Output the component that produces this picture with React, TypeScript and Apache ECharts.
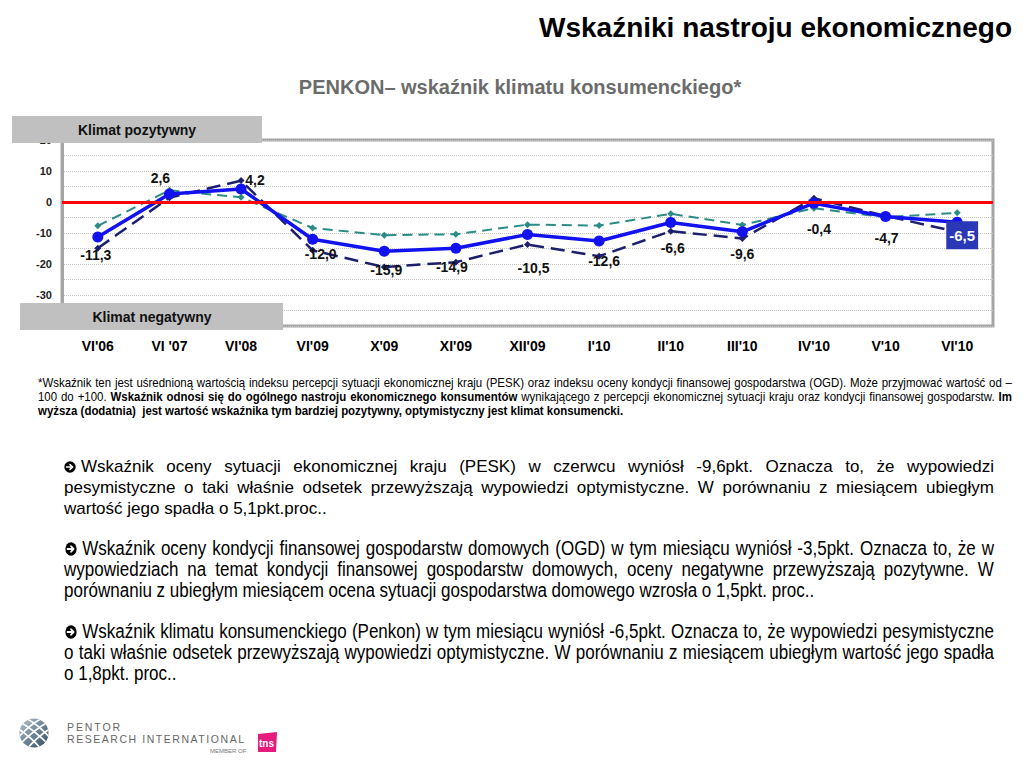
import React, { useEffect, useRef } from "react";
import * as echarts from "echarts";

// ---------- data ----------
const categories = ["VI'06", "VI '07", "VI'08", "VI'09", "X'09", "XI'09", "XII'09", "I'10", "II'10", "III'10", "IV'10", "V'10", "VI'10"];
const penkon = [-11.3, 2.6, 4.2, -12.0, -15.9, -14.9, -10.5, -12.6, -6.6, -9.6, -0.4, -4.7, -6.5];
const pesk = [-14.9, 1.4, 6.9, -15.6, -21.0, -19.4, -13.7, -17.5, -9.4, -11.8, 1.2, -4.5, -9.6];
const ogd = [-7.7, 3.8, 1.5, -8.4, -10.7, -10.4, -7.3, -7.6, -3.8, -7.4, -2.0, -4.9, -3.5];
const yMin = -40;
const yMax = 20;
const yStep = 5;

// label placement for Penkon values (dx, dy from the point)
const penkonLabelOffsets: [number, number][] = [
  [-2, 18], [-9, -16], [14, -9], [8, 15], [2, 19], [-4, 19], [6, 33],
  [5, 20], [2, 26], [0, 22], [5, 26], [1, 21], [5, 13],
];

type Seg = { t: string; b?: boolean };

const footnoteLines: Seg[][] = [
  [{ t: "*Wskaźnik ten jest uśrednioną wartością indeksu percepcji sytuacji ekonomicznej kraju (PESK) oraz indeksu oceny kondycji finansowej gospodarstwa (OGD). Może przyjmować wartość od –" }],
  [
    { t: "100 do +100. " },
    { t: "Wskaźnik odnosi się do ogólnego nastroju ekonomicznego konsumentów", b: true },
    { t: " wynikającego z percepcji ekonomicznej sytuacji kraju oraz kondycji finansowej gospodarstw. " },
    { t: "Im", b: true },
  ],
  [{ t: "wyższa (dodatnia)  jest wartość wskaźnika tym bardziej pozytywny, optymistyczny jest klimat konsumencki.", b: true }],
];

const para1 = [
  "Wskaźnik oceny sytuacji ekonomicznej kraju (PESK) w czerwcu wyniósł -9,6pkt. Oznacza to, że wypowiedzi",
  "pesymistyczne o taki właśnie odsetek przewyższają wypowiedzi optymistyczne. W porównaniu z miesiącem ubiegłym",
  "wartość jego spadła o 5,1pkt.proc..",
];
const para2 = [
  "Wskaźnik oceny kondycji finansowej gospodarstw domowych (OGD) w tym miesiącu wyniósł -3,5pkt. Oznacza to, że w",
  "wypowiedziach na temat kondycji finansowej gospodarstw domowych, oceny negatywne przewyższają pozytywne. W",
  "porównaniu z ubiegłym miesiącem ocena sytuacji gospodarstwa domowego wzrosła o 1,5pkt. proc..",
];
const para3 = [
  "Wskaźnik klimatu konsumenckiego (Penkon) w tym miesiącu wyniósł -6,5pkt. Oznacza to, że wypowiedzi pesymistyczne",
  "o taki właśnie odsetek przewyższają wypowiedzi optymistyczne. W porównaniu z miesiącem ubiegłym wartość jego spadła",
  "o 1,8pkt. proc..",
];

const FONT = "'Liberation Sans', Arial, Helvetica, sans-serif";

function Bullet(props: { size: number; sx: number }) {
  const s = props.size;
  return (
    <svg width={s / props.sx} height={s} viewBox="0 0 20 20" style={{ display: "inline-block", verticalAlign: "-1px", marginRight: 5 }}>
      <circle cx={10} cy={10} r={9.5} fill="#000" />
      <path d="M4 10 H13 M10 6 L14.5 10 L10 14" stroke="#fff" strokeWidth={2.6} fill="none" strokeLinecap="round" strokeLinejoin="round" />
    </svg>
  );
}

function TextLine(props: {
  segs: Seg[]; x: number; cy: number; w: number; size: number; lh: number; sx: number; justify: boolean; bullet?: boolean;
}) {
  const { segs, x, cy, w, size, lh, sx, justify, bullet } = props;
  const words: Seg[] = [];
  segs.forEach((s) => s.t.split(/ +/).filter((q) => q.length > 0).forEach((t) => words.push({ t, b: s.b })));
  const style: React.CSSProperties = {
    position: "absolute",
    left: x,
    top: cy - lh / 2,
    width: w / sx,
    height: lh,
    transform: `scaleX(${sx})`,
    transformOrigin: "0 0",
    fontFamily: FONT,
    fontSize: size,
    lineHeight: lh + "px",
    color: "#000",
    whiteSpace: "pre",
  };
  const bl = bullet ? <Bullet size={Math.round(size * 0.72)} sx={sx} /> : null;
  if (justify) {
    style.display = "flex";
    style.justifyContent = "space-between";
    return (
      <div style={style}>
        {words.map((wd, i) => (
          <span key={i} style={{ fontWeight: wd.b ? "bold" : "normal" }}>{i === 0 ? bl : null}{wd.t}</span>
        ))}
      </div>
    );
  }
  return (
    <div style={style}>
      {bl}
      {segs.map((s, i) => (
        <span key={i} style={{ fontWeight: s.b ? "bold" : "normal" }}>{s.t}</span>
      ))}
    </div>
  );
}

function Paragraph(props: { lines: string[]; top: number; size: number; sx: number }) {
  const { lines, top, size, sx } = props;
  return (
    <>
      {lines.map((l, i) => (
        <TextLine key={i} segs={[{ t: l }]} x={64} cy={top + i * 21} w={930} size={size} lh={21} sx={sx} justify={i < lines.length - 1} bullet={i === 0} />
      ))}
    </>
  );
}

function Logo() {
  return (
    <svg width={300} height={68} style={{ position: "absolute", left: 0, top: 700 }} viewBox="0 700 300 68">
      <defs>
        <linearGradient id="glb" x1="0" y1="0" x2="1" y2="1">
          <stop offset="0" stopColor="#b9c6d0" />
          <stop offset="0.5" stopColor="#6f8799" />
          <stop offset="1" stopColor="#2f4a60" />
        </linearGradient>
        <clipPath id="gclip">
          <circle cx={34} cy={733} r={14.5} />
        </clipPath>
      </defs>
      <circle cx={34} cy={733} r={14.5} fill="url(#glb)" />
      <g clipPath="url(#gclip)" stroke="#ffffff" strokeWidth={1.6} fill="none">
        <path d="M20 722 Q34 730 48 744" />
        <path d="M20 730 Q32 738 42 750" />
        <path d="M26 718 Q40 726 50 738" />
        <path d="M48 722 Q34 730 20 744" />
        <path d="M48 730 Q36 738 26 750" />
        <path d="M42 718 Q28 726 18 738" />
      </g>
      <text x={67} y={731} fontFamily={FONT} fontSize={10.5} letterSpacing={1.9} fill="#666">PENTOR</text>
      <text x={67} y={743} fontFamily={FONT} fontSize={10.5} letterSpacing={1.55} fill="#666">RESEARCH INTERNATIONAL</text>
      <text x={210} y={753} fontFamily={FONT} fontSize={6} fill="#777">MEMBER OF</text>
      <path d="M258 734 L277 732 L276 752 L258 752 Z" fill="#e6197d" />
      <text x={259} y={747} fontFamily={FONT} fontSize={10} fontWeight="bold" fill="#ffffff">tns</text>
    </svg>
  );
}

export default function App() {
  const ref = useRef<HTMLDivElement>(null);

  useEffect(() => {
    if (!ref.current) return;
    const chart = echarts.init(ref.current, undefined, { renderer: "svg" });
    const fmt = (v: number) => v.toFixed(1).replace(".", ",");
    const last = penkon.length - 1;
    const penkonData = penkon.map((v, i) => ({
      value: v,
      label:
        i === last
          ? { offset: penkonLabelOffsets[i], backgroundColor: "#2a38b8", color: "#ffffff", padding: [7, 3, 6, 3], fontSize: 15 }
          : { offset: penkonLabelOffsets[i] },
    }));

    chart.setOption({
      animation: false,
      backgroundColor: "#ffffff",
      textStyle: { fontFamily: FONT },
      grid: {
        left: 62, right: 31, top: 140, bottom: 442,
        show: true, borderColor: "#a5a5a5", borderWidth: 3, backgroundColor: "#ffffff",
      },
      xAxis: {
        type: "category",
        data: categories,
        axisTick: { show: false },
        axisLine: { show: false },
        axisLabel: { fontWeight: "bold", fontSize: 14, color: "#000", margin: 13, fontFamily: FONT },
      },
      yAxis: {
        type: "value",
        min: yMin,
        max: yMax,
        interval: yStep,
        axisLine: { show: true, lineStyle: { color: "#a5a5a5", width: 3 } },
        axisTick: { show: false },
        splitLine: { lineStyle: { color: "#c4c4c4", type: "dotted", width: 1 } },
        axisLabel: {
          formatter: (v: number) => (v % 10 === 0 && v !== yMin ? String(v) : ""),
          fontWeight: "bold", fontSize: 11, color: "#222", margin: 10, fontFamily: FONT,
        },
      },
      series: [
        {
          name: "OGD",
          type: "line",
          data: ogd,
          symbol: "diamond",
          symbolSize: 7,
          itemStyle: { color: "#2a8c84" },
          lineStyle: { color: "#2a8c84", width: 2, type: [10, 6] },
          z: 2,
          markLine: {
            silent: true,
            symbol: ["none", "none"],
            label: { show: false },
            lineStyle: { color: "#ff0000", width: 3, type: "solid" },
            data: [{ yAxis: 0 }],
          },
        },
        {
          name: "PESK",
          type: "line",
          data: pesk,
          symbol: "diamond",
          symbolSize: 7,
          itemStyle: { color: "#1c1f6e" },
          lineStyle: { color: "#1c1f6e", width: 2.5, type: [14, 7] },
          z: 3,
        },
        {
          name: "PENKON",
          type: "line",
          data: penkonData,
          symbol: "circle",
          symbolSize: 11,
          itemStyle: { color: "#1212f0" },
          lineStyle: { color: "#1212f0", width: 3.5 },
          z: 4,
          label: {
            show: true,
            position: "inside",
            formatter: (p: any) => fmt(p.value),
            fontWeight: "bold",
            fontSize: 14,
            color: "#111",
            fontFamily: FONT,
          },
        },
      ],
      graphic: [
        {
          type: "text", x: 1012, y: 27, z: 100,
          style: { text: "Wskaźniki nastroju ekonomicznego", fontFamily: FONT, fontSize: 28, fontWeight: "bold", fill: "#000", textAlign: "right", textVerticalAlign: "middle", align: "right", verticalAlign: "middle" },
        },
        {
          type: "text", x: 520, y: 87, z: 100,
          style: { text: "PENKON– wskaźnik klimatu konsumenckiego*", fontFamily: FONT, fontSize: 20, fontWeight: "bold", fill: "#6b6b6b", textAlign: "center", textVerticalAlign: "middle", align: "center", verticalAlign: "middle" },
        },
        { type: "rect", z: 100, shape: { x: 12, y: 116, width: 250, height: 27 }, style: { fill: "#c0c0c0" } },
        {
          type: "text", x: 137, y: 130, z: 101,
          style: { text: "Klimat pozytywny", fontFamily: FONT, fontSize: 14, fontWeight: "bold", fill: "#111", textAlign: "center", textVerticalAlign: "middle", align: "center", verticalAlign: "middle" },
        },
        { type: "rect", z: 100, shape: { x: 20, y: 303, width: 263, height: 27 }, style: { fill: "#c0c0c0" } },
        {
          type: "text", x: 152, y: 317, z: 101,
          style: { text: "Klimat negatywny", fontFamily: FONT, fontSize: 14, fontWeight: "bold", fill: "#111", textAlign: "center", textVerticalAlign: "middle", align: "center", verticalAlign: "middle" },
        },
      ],
    });
    return () => chart.dispose();
  }, []);

  return (
    <div style={{ position: "absolute", left: 0, top: 0, width: 1024, height: 768, background: "#fff", overflow: "hidden" }}>
      <div ref={ref} style={{ position: "absolute", left: 0, top: 0, width: 1024, height: 768 }} />
      {footnoteLines.map((segs, i) => (
        <TextLine key={"fn" + i} segs={segs} x={38} cy={383 + i * 14} w={974} size={13.3} lh={14} sx={0.86} justify={i < footnoteLines.length - 1} />
      ))}
      <Paragraph lines={para1} top={466} size={17} sx={1} />
      <Paragraph lines={para2} top={548} size={20} sx={0.85} />
      <Paragraph lines={para3} top={631} size={20} sx={0.85} />
      <Logo />
    </div>
  );
}
